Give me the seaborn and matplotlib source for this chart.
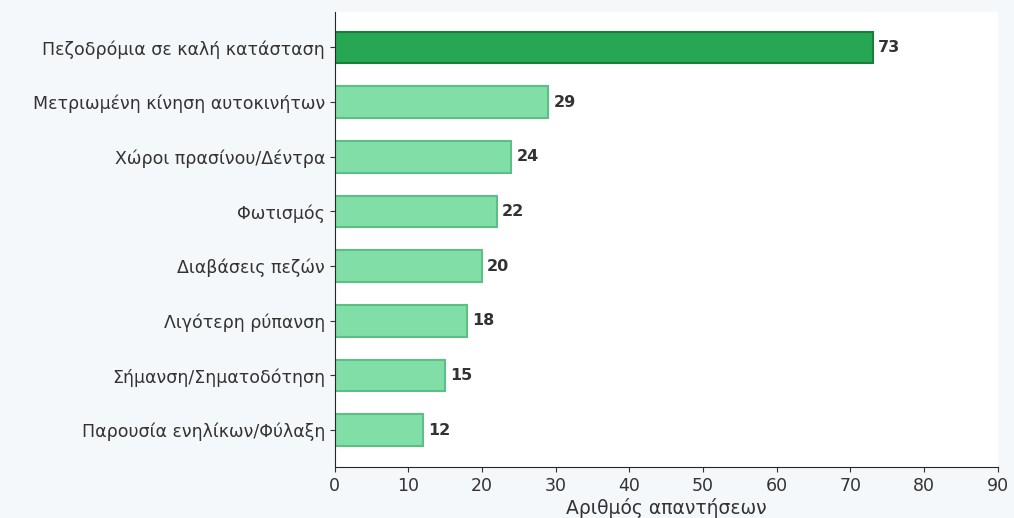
import pandas as pd
import matplotlib.pyplot as plt
import seaborn as sns

## categories and answer counts, top to bottom
categories = [
    "Πεζοδρόμια σε καλή κατάσταση",
    "Μετριωμένη κίνηση αυτοκινήτων",
    "Χώροι πρασίνου/Δέντρα",
    "Φωτισμός",
    "Διαβάσεις πεζών",
    "Λιγότερη ρύπανση",
    "Σήμανση/Σηματοδότηση",
    "Παρουσία ενηλίκων/Φύλαξη",
]
counts = [73, 29, 24, 22, 20, 18, 15, 12]
xticks = [0, 10, 20, 30, 40, 50, 60, 70, 80, 90]

df = pd.DataFrame({"Category": categories, "Count": counts})

sns.set_style("ticks")
plt.rcParams['font.family'] = ['DejaVu Sans']

fig = plt.figure(figsize=(10.14, 5.18), dpi=100, facecolor="#f5f8fa")
ax = fig.add_axes([0.330, 0.098, 0.654, 0.879])
ax.set_facecolor("white")

# top answer highlighted in dark green
top = df["Count"].max()
palette = {c: ("#27a653" if v == top else "#80dea6") for c, v in zip(categories, counts)}
edges = ["#1a7f3c" if v == top else "#5cbf85" for v in counts]

sns.barplot(data=df, y="Category", x="Count", hue="Category", palette=palette,
            legend=False, width=0.58, ax=ax, saturation=1)
for patch, ec in zip(ax.patches, edges):
    patch.set_edgecolor(ec)
    patch.set_linewidth(1.5)

for i, v in enumerate(counts):
    ax.text(v + 0.7, i, str(v), va="center", ha="left", fontsize=11.5,
            color="#333333", fontweight="bold")

ax.set_xlim(0, 90)
ax.set_ylim(len(categories) - 0.32, -0.65)
ax.set_xticks(xticks)
ax.set_xlabel("Αριθμός απαντήσεων", fontsize=13.5, color="#333333", labelpad=2)
ax.set_ylabel("")
ax.tick_params(axis="y", labelsize=12.5, colors="#333333")
ax.tick_params(axis="x", labelsize=12.5, colors="#333333")
sns.despine(ax=ax)

plt.savefig("out.png", dpi=100, facecolor=fig.get_facecolor())
